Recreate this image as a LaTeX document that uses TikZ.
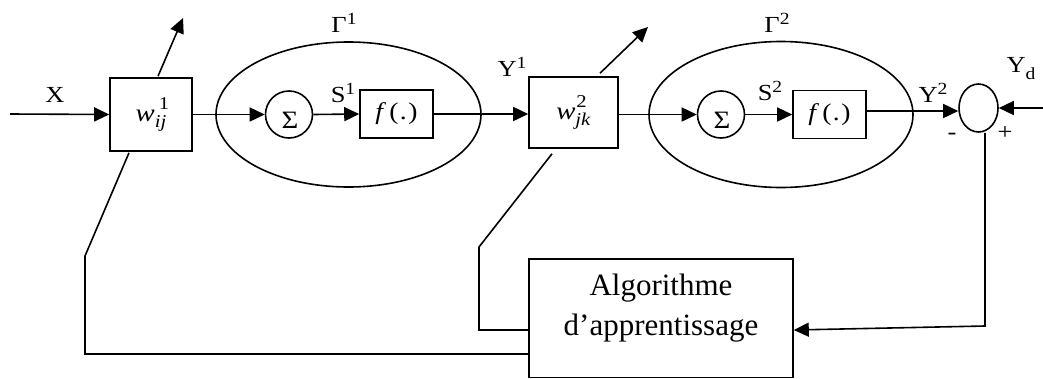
\documentclass[tikz,border=0pt]{standalone}
\usepackage{fontspec}
\setmainfont{Liberation Serif}
\newfontfamily\widefont[FakeStretch=1.15]{Liberation Serif}
\usetikzlibrary{shapes.geometric,arrows.meta,calc}
\newcommand\supx[2][8pt]{\raisebox{#1}{\fontsize{17}{17}\selectfont #2}}
\newcommand\subx[2][-4pt]{\raisebox{#1}{\fontsize{17}{17}\selectfont #2}}
\begin{document}
\begin{tikzpicture}[x=1pt,y=-1pt,line width=1.6pt,
  arr/.style={-{Triangle[length=15pt,width=14pt]}},
  blk/.style={draw,rectangle,inner sep=0pt},
  lbl/.style={inner sep=0pt,font=\widefont\fontsize{23}{23}\selectfont},
  sig/.style={inner sep=0pt,font=\widefont\fontsize{25}{25}\selectfont},
  wlab/.style={font=\widefont\fontsize{25}{25}\selectfont},
  fx/.style={blk,minimum width=73pt,minimum height=48pt,font=\widefont\fontsize{24}{24}\selectfont}]
\useasboundingbox (0,0) rectangle (1043,378);
% ellipses
\node[draw,ellipse,minimum width=265pt,minimum height=145pt,inner sep=0pt] (e1) at (348.5,114.5) {};
\node[draw,ellipse,minimum width=264pt,minimum height=146pt,inner sep=0pt] (e2) at (781,114.5) {};
% blocks
\node[blk,wlab,minimum width=82pt,minimum height=73pt] (w1) at (151,114.5)
  {\textit{w}\rlap{\hspace{4pt}\raisebox{12pt}{\fontsize{18}{18}\selectfont 1}}\raisebox{-6pt}{\fontsize{18}{18}\selectfont\textit{ij}}};
\node[blk,wlab,minimum width=89pt,minimum height=71pt] (w2) at (573.5,112.5)
  {\textit{w}\rlap{\hspace{1pt}\raisebox{12pt}{\fontsize{18}{18}\selectfont 2}}\raisebox{-6pt}{\fontsize{18}{18}\selectfont\textit{jk}}};
\node[draw,circle,minimum size=47pt,inner sep=0pt] (s1) at (289,114.5) {};
\node[sig] (sg1) at (290,120.5) {Σ};
\node[draw,circle,minimum size=47pt,inner sep=0pt] (s2) at (721,114.5) {};
\node[sig] (sg2) at (722,120.5) {Σ};
\node[fx] (f1) at (396.5,114) {\textit{f}\kern3pt(\kern1.5pt.\kern1.5pt)};
\node[fx] (f2) at (829.5,114.5) {\textit{f}\kern3pt(\kern1.5pt.\kern1.5pt)};
\node[draw,ellipse,minimum width=39pt,minimum height=48pt,inner sep=0pt] (cmp) at (978.5,108) {};
\node[blk,minimum width=264pt,minimum height=118.5pt] (algo) at (661,318.25) {};
\node[inner sep=0pt,align=center,font=\fontsize{31}{40}\selectfont] (algotxt) at ($(algo.center)+(0,-10)$) {Algorithme\\d’apprentissage};
% labels
\node[lbl] (lx) at (55,95) {X};
\node[lbl] (lg1) at (344,23) {Γ\supx{1}};
\node[lbl] (ls1) at (343,93) {S\supx{1}};
\node[lbl] (ly1) at (512,67) {Y\supx{1}};
\node[lbl] (lg2) at (777,23) {Γ\supx{2}};
\node[lbl] (ls2) at (770,91) {S\supx{2}};
\node[lbl] (ly2) at (933,93) {Y\supx{2}};
\node[lbl] (lyd) at (1021,69) {Y\subx[-7pt]{d}};
\node[lbl] (lm) at (952,136) {-};
\node[lbl] (lp) at (1005,133) {+};
% coordinates
\coordinate (in) at (10,114);
\coordinate (yd) at (1043,108);
\coordinate (w1up) at (183,18);
\coordinate (w2up) at (648,27);
\coordinate (k1) at (85,256);
\coordinate (k2) at (479,247);
\coordinate (rc) at (985,326);
% connectors
\draw[arr] (in) -- (w1.west);
\draw[arr] (w1.east) -- (s1.west);
\draw[arr] (s1.east) -- (f1.west);
\draw[arr] (f1.east) -- (f1.east -| w2.west);
\draw[arr] (w2.east |- s2.west) -- (s2.west);
\draw[arr] (s2.east) -- (f2.west);
\draw[arr] ([yshift=3.5pt]f2.east) -- ([yshift=3.5pt]f2.east -| cmp.west);
\draw[arr] (yd) -- (cmp.east);
\draw[arr] ($(w1.north)+(7,-1)$) -- (w1up);
\draw[arr] ($(w2.north)+(26.5,-3)$) -- (w2up);
\draw ($(w1.south)+(-22,1)$) -- (k1) |- ([yshift=-35.75pt]algo.west);
\draw ($(w2.south)+(-21.5,5)$) -- (k2) |- ([yshift=-11.75pt]algo.west);
\draw[arr] (rc |- cmp.south) -- (rc) -- ([yshift=-11.75pt]algo.east);
\end{tikzpicture}
\end{document}
